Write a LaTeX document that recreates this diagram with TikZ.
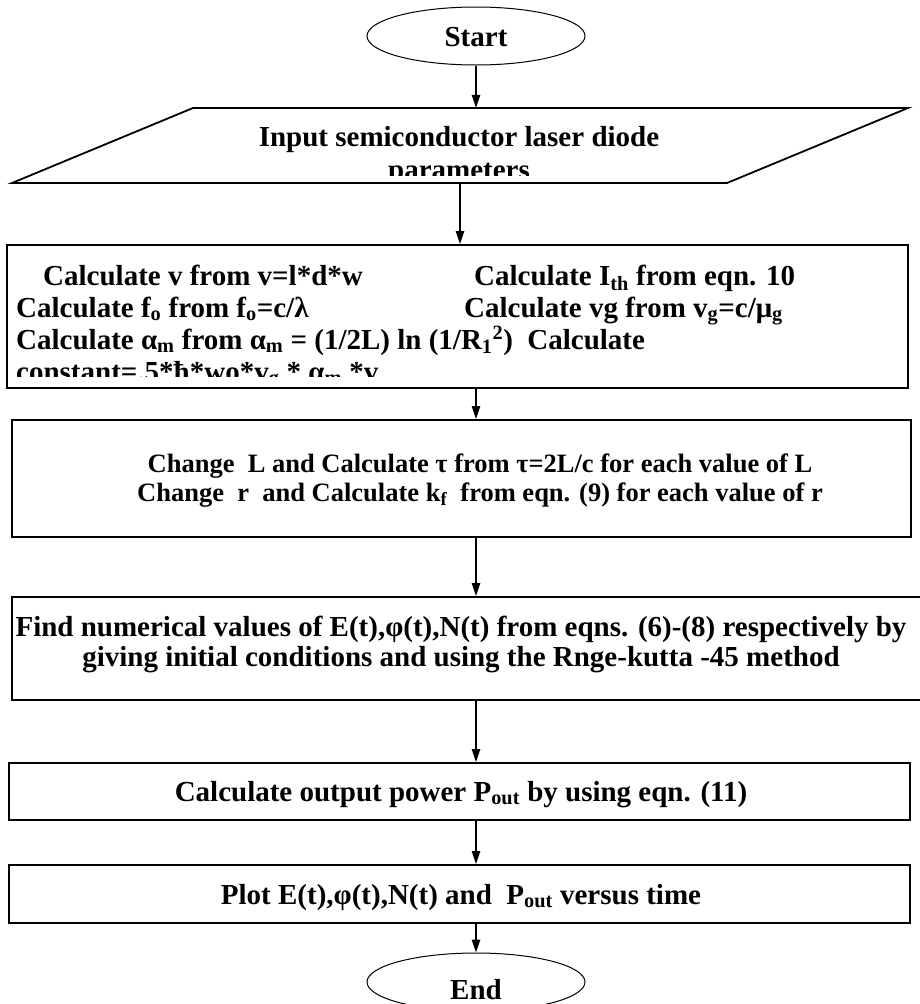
\documentclass[tikz,border=0pt]{standalone}
\usepackage{fontspec}
\setmainfont{Liberation Serif}
\usetikzlibrary{shapes.geometric,arrows.meta}
\begin{document}
\begin{tikzpicture}[x=1pt,y=-1pt,
  font=\bfseries\fontsize{29}{31}\selectfont,
  box/.style={draw, line width=2pt, inner sep=0pt},
  term/.style={draw, ellipse, line width=1pt, inner sep=0pt, minimum width=218pt, minimum height=58pt},
  arr/.style={-{Triangle[length=13pt,width=8.5pt]}, line width=1.2pt},
  txt/.style={inner sep=0pt, anchor=base west},
  ctxt/.style={inner sep=0pt, anchor=base},
  smalltxt/.style={inner sep=0pt, anchor=base, font=\bfseries\fontsize{26.5}{29}\selectfont}]
\useasboundingbox (0,0) rectangle (919,1004);
\coordinate (spine) at (476,0);
% Start
\node[term] (start) at (476,36) {};
\node[ctxt] (starttxt) at (476,46) {Start};
% Input parallelogram
\node[inner sep=0pt, minimum width=715pt, minimum height=75pt] (inp) at (460,145.5) {};
\draw[line width=1.8pt] (193,108) -- (908,108) -- (727,183) -- (12,183) -- cycle;
\begin{scope}
\clip (0,100) rectangle (919,175);
\node[ctxt] (inp1) at (459,146) {Input semiconductor laser diode};
\node[ctxt] (inp2) at (459,179) {parameters};
\end{scope}
% Box 2
\node[box, minimum width=901pt, minimum height=143pt] (b2) at (457.5,316.5) {};
\begin{scope}
\clip (10,250) rectangle (905,376);
\node[txt] (l1a) at (43,285) {Calculate v from v=l*d*w};
\node[txt] (l1b) at (474,285) {Calculate I\textsubscript{th} from eqn. 10};
\node[txt] (l2a) at (16,317) {Calculate f\textsubscript{o} from f\textsubscript{o}=c/λ};
\node[txt] (l2b) at (464,317) {Calculate vg from v\textsubscript{g}=c/μ\textsubscript{g}};
\node[txt] (l3) at (16,349) {Calculate α\textsubscript{m} from α\textsubscript{m} = (1/2L) ln (1/R\textsubscript{1}\textsuperscript{2})\ \ Calculate};
\node[txt] (l4) at (16,381) {constant=.5*ħ*wo*v\textsubscript{g} * α\textsubscript{m} *v};
\end{scope}
% Box 3
\node[box, minimum width=899pt, minimum height=117pt] (b3) at (461.5,478.5) {};
\node[smalltxt] (b3a) at (480,472) {Change\ \ L and Calculate τ from τ=2L/c for each value of L};
\node[smalltxt] (b3b) at (480,501) {Change\ \ r\ \ and Calculate k\textsubscript{f}\ \ from eqn. (9) for each value of r};
% Box 4
\node[box, minimum width=915pt, minimum height=103pt] (b4) at (469.5,648.5) {};
\node[ctxt] (b4a) at (461,636) {Find numerical values of E(t),φ(t),N(t) from eqns. (6)-(8) respectively by};
\node[ctxt] (b4b) at (461,666) {giving initial conditions and using the Rnge-kutta -45 method};
% Box 5
\node[box, minimum width=901pt, minimum height=57pt] (b5) at (459.5,791.5) {};
\node[ctxt] (b5t) at (461,801) {Calculate output power P\textsubscript{out} by using eqn. (11)};
% Box 6
\node[box, minimum width=901pt, minimum height=58pt] (b6) at (459.5,894) {};
\node[ctxt] (b6t) at (461,904) {Plot E(t),φ(t),N(t) and\ \ P\textsubscript{out} versus time};
% End
\node[term] (end) at (476,982) {};
\node[ctxt] (endtxt) at (476,999) {End};
% Connectors
\draw[arr] (start.south) -- (start.south |- inp.north);
\draw[arr] (inp.south) -- (inp.south |- b2.north);
\draw[arr] (b2.south -| spine) -- (b3.north -| spine);
\draw[arr] (b3.south -| spine) -- (b4.north -| spine);
\draw[arr] (b4.south -| spine) -- (b5.north -| spine);
\draw[arr] (b5.south -| spine) -- (b6.north -| spine);
\draw[arr] (b6.south -| spine) -- (end.north);
\end{tikzpicture}
\end{document}
